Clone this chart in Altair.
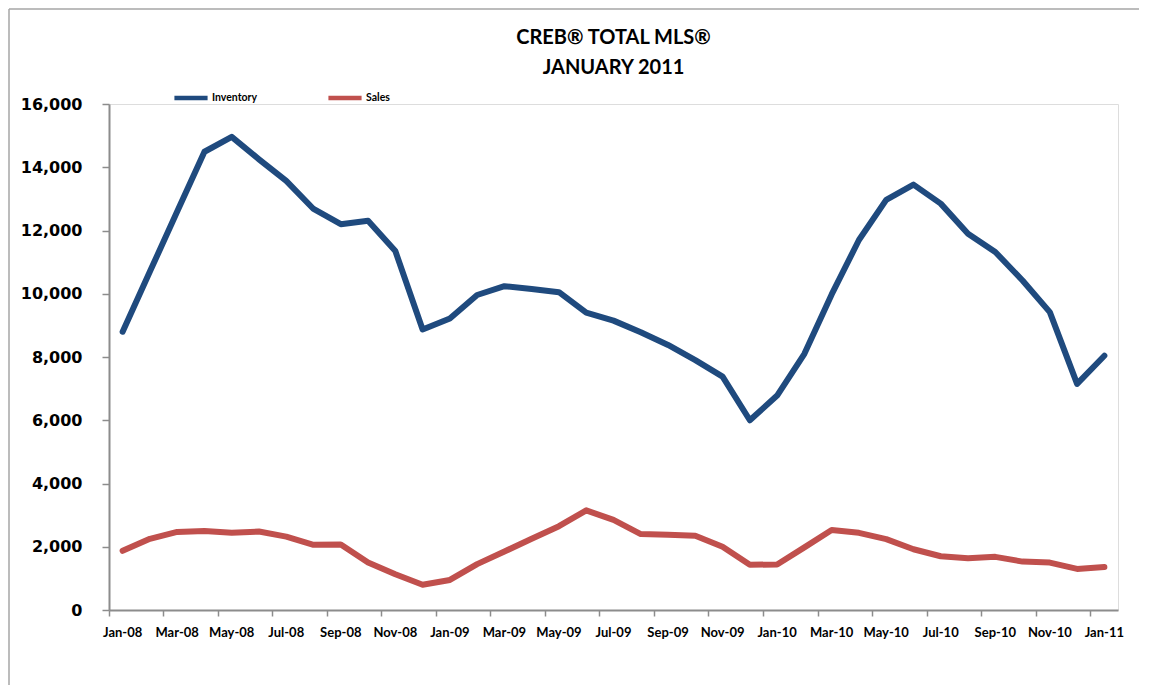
import altair as alt
import pandas as pd

months = ["Jan-08", "Feb-08", "Mar-08", "Apr-08", "May-08", "Jun-08", "Jul-08", "Aug-08",
          "Sep-08", "Oct-08", "Nov-08", "Dec-08", "Jan-09", "Feb-09", "Mar-09", "Apr-09",
          "May-09", "Jun-09", "Jul-09", "Aug-09", "Sep-09", "Oct-09", "Nov-09", "Dec-09",
          "Jan-10", "Feb-10", "Mar-10", "Apr-10", "May-10", "Jun-10", "Jul-10", "Aug-10",
          "Sep-10", "Oct-10", "Nov-10", "Dec-10", "Jan-11"]

inventory = [8800, 10700, 12600, 14490, 14960, 14250, 13570, 12680, 12200, 12310, 11350, 8870,
             9220, 9960, 10240, 10150, 10050, 9400, 9150, 8780, 8380, 7900, 7380, 6000,
             6780, 8100, 9980, 11700, 12970, 13450, 12850, 11900, 11320, 10420, 9420, 7150,
             8040]

sales = [1870, 2250, 2470, 2500, 2440, 2480, 2320, 2060, 2070, 1500, 1130, 800,
         950, 1450, 1850, 2250, 2650, 3150, 2850, 2400, 2380, 2350, 2000, 1430,
         1440, 1980, 2530, 2440, 2240, 1920, 1700, 1640, 1680, 1530, 1500, 1300,
         1360]

series_names = ["Inventory", "Sales"]
series_colors = ["#1F4A7E", "#C0504D"]
y_ticks = [0, 2000, 4000, 6000, 8000, 10000, 12000, 14000, 16000]
x_label_values = months[::2]

rows = []
for m, v in zip(months, inventory):
    rows.append({"month": m, "value": v, "series": "Inventory"})
for m, v in zip(months, sales):
    rows.append({"month": m, "value": v, "series": "Sales"})
df = pd.DataFrame(rows)

axis_gray = "#8C8C8C"
plot_w = 1009

lines = alt.Chart(df).mark_line(strokeWidth=6, strokeCap="round", strokeJoin="round").encode(
    x=alt.X("month:O", sort=months,
            scale=alt.Scale(type="band", paddingInner=0, paddingOuter=0),
            axis=alt.Axis(title=None, values=x_label_values, labelAngle=0,
                          bandPosition=0,
                          tickSize=6, tickColor=axis_gray, tickWidth=1.5,
                          domainColor=axis_gray, domainWidth=2,
                          labelFont="Lato", labelFontSize=13, labelFontWeight="bold",
                          labelColor="#000000", labelPadding=10)),
    y=alt.Y("value:Q", scale=alt.Scale(domain=[0, 16000], nice=False),
            axis=alt.Axis(title=None, values=y_ticks, format=",.0f", grid=False,
                          tickSize=7, tickColor=axis_gray, tickWidth=1.5,
                          domainColor=axis_gray, domainWidth=2,
                          labelFont="DejaVu Sans", labelFontSize=16, labelFontWeight="bold",
                          labelColor="#000000", labelPadding=20)),
    color=alt.Color("series:N", sort=series_names,
                    scale=alt.Scale(domain=series_names, range=series_colors),
                    legend=alt.Legend(title=None, orient="none", direction="horizontal",
                                      legendX=63, legendY=-25, symbolType="stroke",
                                      symbolSize=1100, symbolStrokeWidth=4.5,
                                      labelFont="Lato", labelFontSize=10.5,
                                      labelFontWeight="bold", labelColor="#000000",
                                      labelOffset=2, columnPadding=61)),
)

frame_top = alt.Chart(alt.Data(values=[{}])).mark_rule(color="#A6A6A6", strokeWidth=1.5).encode(
    x=alt.value(-100), x2=alt.value(1030), y=alt.value(-95))
frame_left = alt.Chart(alt.Data(values=[{}])).mark_rule(color="#A6A6A6", strokeWidth=1.5).encode(
    x=alt.value(-100), y=alt.value(-95), y2=alt.value(600))

chart = alt.layer(frame_top, frame_left, lines).properties(
    width=plot_w, height=506,
    autosize=alt.AutoSizeParams(type="none"),
    padding={"left": 101, "top": 96, "right": 25, "bottom": 75},
    title=alt.Title(text=["CREB® TOTAL MLS®", "JANUARY 2011"], anchor="middle",
                    frame="group", font="Lato", fontSize=20, fontWeight="bold",
                    color="#000000", lineHeight=30, offset=0, dy=70),
).configure_view(stroke=None).configure(background="#FFFFFF")

chart.save("out.html", embed_options={"renderer": "svg", "actions": False})
